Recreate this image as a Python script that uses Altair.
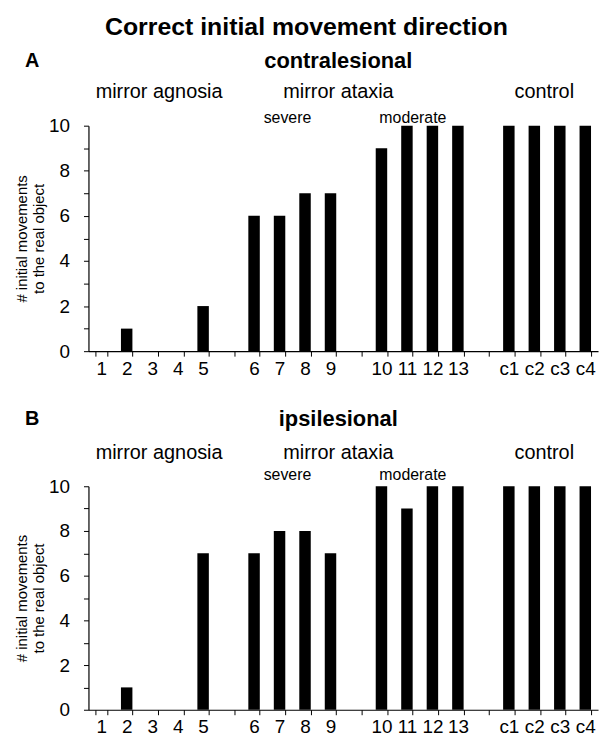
import altair as alt
import pandas as pd

# ---- data ----
slots = ["1", "2", "3", "4", "5", "g1", "6", "7", "8", "9", "g2",
         "10", "11", "12", "13", "g3", "c1", "c2", "c3", "c4"]
patients = ["1", "2", "3", "4", "5", "6", "7", "8", "9", "10", "11", "12", "13",
            "c1", "c2", "c3", "c4"]
contralesional = [0, 1, 0, 0, 2, 6, 6, 7, 7, 9, 10, 10, 10, 10, 10, 10, 10]
ipsilesional = [0, 1, 0, 0, 7, 7, 8, 8, 7, 10, 9, 10, 10, 10, 10, 10, 10]
y_ticks = [0, 1, 2, 3, 4, 5, 6, 7, 8, 9, 10]
y_title = ["# initial movements", "to the real object"]

FONT = "Liberation Sans"
W = 513

X_SCALE = alt.Scale(domain=slots, paddingInner=0.55, paddingOuter=0.275)
X_AXIS = alt.Axis(title=None, labelAngle=0, tickBand="extent",
                  labelExpr="indexof(datum.label, 'g') == 0 ? '' : datum.label",
                  labelOverlap=False, labelFontSize=19, labelPadding=3,
                  tickSize=5)


def x_enc():
    return alt.X("patient:N", sort=slots, scale=X_SCALE, axis=X_AXIS)


def text_layer(label, anchor, dx, y, size, bold=False):
    df = pd.DataFrame({"patient": [anchor], "t": [label]})
    return alt.Chart(df).mark_text(
        font=FONT, fontSize=size, fontWeight="bold" if bold else "normal",
        color="black", baseline="alphabetic", align="center", dx=dx
    ).encode(x=x_enc(), y=alt.value(y), text="t:N")


def abs_text(label, x, y, size, bold=False, align="center"):
    df = pd.DataFrame({"t": [label]})
    return alt.Chart(df).mark_text(
        font=FONT, fontSize=size, fontWeight="bold" if bold else "normal",
        color="black", baseline="alphabetic", align=align
    ).encode(x=alt.value(x), y=alt.value(y), text="t:N")


def panel(values, letter, side, h, y_let, y_grp, y_sub):
    df = pd.DataFrame({"patient": patients, "n": values})
    bars = alt.Chart(df).mark_bar(color="black").encode(
        x=x_enc(),
        y=alt.Y("n:Q", scale=alt.Scale(domain=[0, 10], nice=False),
                axis=alt.Axis(values=y_ticks, title=y_title, grid=False,
                              labelExpr="datum.value % 2 == 0 ? datum.label : ''",
                              labelFontSize=19, labelPadding=14, tickSize=5,
                              titleFontSize=15, titleFontWeight="normal",
                              titlePadding=2, titleLineHeight=17)),
    )
    layers = [
        bars,
        abs_text(letter, -64, y_let, 20, bold=True, align="left"),
        abs_text(side, W / 2 - 5, y_let + 1, 22, bold=True),
        text_layer("mirror agnosia", "3", 7, y_grp, 20),
        text_layer("mirror ataxia", "9", 8, y_grp, 20),
        text_layer("control", "c2", 10, y_grp, 20),
        text_layer("severe", "7", 8, y_sub, 16),
        text_layer("moderate", "11", 6, y_sub, 16),
    ]
    return alt.layer(*layers).properties(width=W, height=h)


pA = panel(contralesional, "A", "contralesional", 227, -59, -28, -3)
pB = panel(ipsilesional, "B", "ipsilesional", 225, -62, -27, -6)

chart = alt.vconcat(pA, pB, spacing=30).properties(
    title=alt.TitleParams("Correct initial movement direction", fontSize=25,
                          font=FONT, fontWeight="bold", anchor="middle", color="black"),
    padding={"left": 6, "top": 5, "right": 4, "bottom": 4},
).configure_view(stroke=None).configure_axis(
    labelFont=FONT, titleFont=FONT, labelColor="black", titleColor="black",
    domainColor="black", tickColor="black", domainWidth=1.2, tickWidth=1
).configure_title(offset=10)

chart.save("out.html", embed_options={"renderer": "svg", "actions": False})
